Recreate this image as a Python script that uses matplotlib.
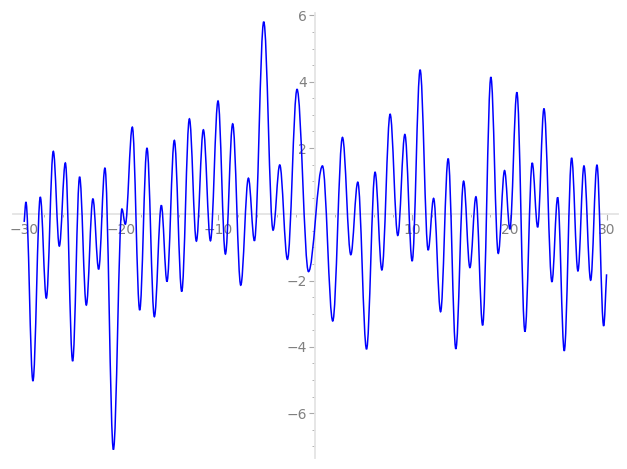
import matplotlib
matplotlib.use('Agg')
import matplotlib.pyplot as plt
from matplotlib.path import Path
import matplotlib.patches as patches
import matplotlib.ticker as ticker
import numpy as np

# curve: start point, alternating peaks/troughs, end point
xs = [-30.0, -29.82, -29.10, -28.34, -27.72, -27.00, -26.38, -25.76, -25.01, -24.29,
      -23.60, -22.92, -22.33, -21.68, -20.81, -19.93, -19.58, -18.86, -18.10, -17.35,
      -16.59, -15.87, -15.29, -14.53, -13.77, -12.98, -12.26, -11.54, -10.81, -10.03,
      -9.27, -8.52, -7.69, -6.90, -6.28, -5.32, -4.36, -3.67, -2.88, -1.89,
      -0.71, 0.73, 1.79, 2.79, 3.65, 4.37, 5.27, 6.15, 6.85, 7.70,
      8.49, 9.22, 9.97, 10.79, 11.62, 12.18, 12.90, 13.68, 14.47, 15.27,
      15.92, 16.54, 17.23, 18.08, 18.84, 19.49, 20.04, 20.76, 21.59, 22.34,
      22.90, 23.55, 24.37, 24.96, 25.64, 26.40, 27.05, 27.67, 28.36, 29.01,
      29.70, 30.0]
ys = [-0.23, 0.37, -5.03, 0.52, -2.53, 1.90, -0.96, 1.55, -4.43, 1.13,
      -2.74, 0.47, -1.66, 1.40, -7.10, 0.16, -0.30, 2.63, -2.89, 2.00,
      -3.09, 0.27, -2.03, 2.23, -2.33, 2.88, -0.81, 2.55, -0.80, 3.42,
      -1.20, 2.73, -2.14, 1.09, -0.80, 5.81, -0.48, 1.49, -1.36, 3.77,
      -1.73, 1.46, -3.22, 2.32, -1.22, 0.97, -4.07, 1.27, -1.68, 3.02,
      -0.64, 2.41, -1.41, 4.36, -1.08, 0.48, -2.94, 1.68, -4.06, 1.00,
      -1.61, 0.53, -3.35, 4.14, -1.18, 1.32, -0.45, 3.68, -3.54, 1.55,
      -0.39, 3.19, -2.04, 0.51, -4.12, 1.70, -1.71, 1.46, -1.99, 1.49,
      -3.37, -1.81]

x_major = [-30, -20, -10, 10, 20, 30]
y_major = [-6, -4, -2, 2, 4, 6]

fig = plt.figure(figsize=(6.27, 4.69), dpi=100)
ax = fig.add_axes([0.020, 0.023, 0.966, 0.949])

# smooth path with flat tangents at each extremum
verts = [(xs[0], ys[0])]
codes = [Path.MOVETO]
k = 0.36
for i in range(len(xs) - 1):
    x0, y0, x1, y1 = xs[i], ys[i], xs[i + 1], ys[i + 1]
    dx = x1 - x0
    if i == 0:
        c1 = (x0 + k * dx, y0 + k * (y1 - y0))
    else:
        c1 = (x0 + k * dx, y0)
    if i == len(xs) - 2:
        c2 = (x1 - k * dx, y1 - k * (y1 - y0))
    else:
        c2 = (x1 - k * dx, y1)
    verts += [c1, c2, (x1, y1)]
    codes += [Path.CURVE4] * 3
curve = patches.PathPatch(Path(verts, codes), fill=False, edgecolor='blue',
                          lw=1.1, zorder=3)
ax.add_patch(curve)

ax.set_xlim(-31.2, 31.2)
ax.set_ylim(-7.36, 6.07)

for side in ['top', 'right']:
    ax.spines[side].set_visible(False)
ax.spines['left'].set_position(('data', 0))
ax.spines['bottom'].set_position(('data', 0))
for side in ['left', 'bottom']:
    ax.spines[side].set_color('#e4e4e4')
    ax.spines[side].set_linewidth(1.3)

ax.xaxis.set_major_locator(ticker.FixedLocator(x_major))
ax.yaxis.set_major_locator(ticker.FixedLocator(y_major))
ax.xaxis.set_minor_locator(ticker.MultipleLocator(2))
ax.yaxis.set_minor_locator(ticker.MultipleLocator(0.5))
ax.tick_params(which='major', length=4, width=0.8, color='#aaaaaa',
               labelcolor='#808080', labelsize=10, direction='out', pad=2)
ax.tick_params(which='minor', length=2, width=0.6, color='#aaaaaa', direction='out')

fig.savefig('out.png', dpi=100)
